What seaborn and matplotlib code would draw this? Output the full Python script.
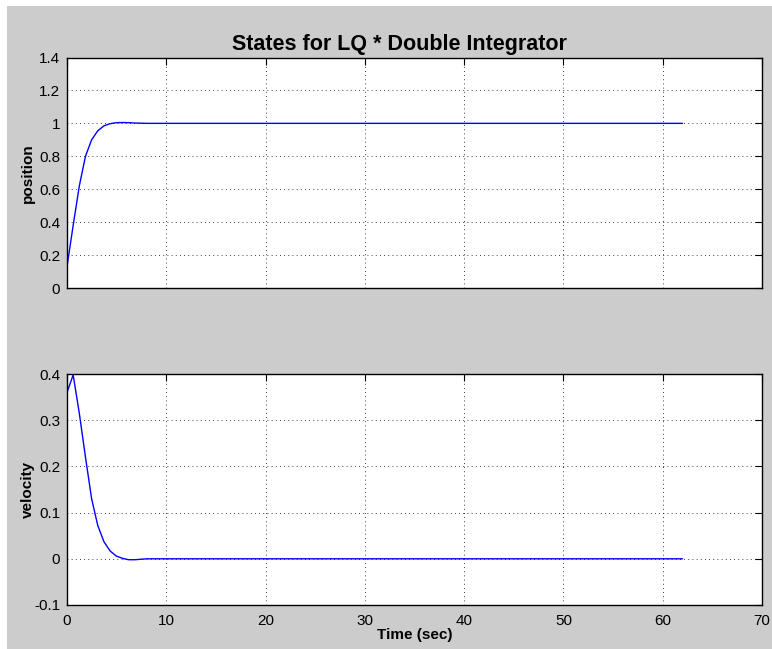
import matplotlib
matplotlib.use("Agg")
import matplotlib.pyplot as plt
from matplotlib.patches import Rectangle
import seaborn as sns
import pandas as pd

# Data
time_s = [0.0, 0.62, 1.24, 1.86, 2.48, 3.10, 3.72, 4.34, 4.96, 5.58, 6.20, 6.82, 7.44, 8.06, 62.0]
position = [0.13, 0.38, 0.62, 0.80, 0.90, 0.955, 0.985, 0.998, 1.004, 1.005, 1.004, 1.002, 1.001, 1.0, 1.0]
velocity = [0.36, 0.398, 0.315, 0.22, 0.13, 0.072, 0.037, 0.017, 0.006, 0.001, -0.002, -0.002, -0.001, 0.0, 0.0]

x_ticks = [0, 10, 20, 30, 40, 50, 60, 70]
pos_ticks = [0, 0.2, 0.4, 0.6, 0.8, 1.0, 1.2, 1.4]
pos_labels = ["0", "0.2", "0.4", "0.6", "0.8", "1", "1.2", "1.4"]
vel_ticks = [-0.1, 0, 0.1, 0.2, 0.3, 0.4]
vel_labels = ["-0.1", "0", "0.1", "0.2", "0.3", "0.4"]

title = "States for LQ * Double Integrator"

df = pd.DataFrame({"t": time_s, "position": position, "velocity": velocity})

sns.set_style("white")
plt.rcParams["font.family"] = ["Liberation Sans", "DejaVu Sans"]
plt.rcParams["text.color"] = "black"
plt.rcParams["axes.labelcolor"] = "black"

W, H = 772, 649
fig = plt.figure(figsize=(W / 100, H / 100), dpi=100, facecolor="white")
fig.patches.append(Rectangle((7 / W, 0), 1, 1 - 6 / H, transform=fig.transFigure,
                             facecolor="#cccccc", edgecolor="none", zorder=-10))

left = 67 / W
width = (762 - 67) / W
ax1 = fig.add_axes([left, 1 - 288 / H, width, (288 - 57.5) / H])
ax2 = fig.add_axes([left, 1 - 605 / H, width, (605 - 374) / H])

grid_kw = dict(color="black", linestyle=(0, (1, 4)), linewidth=0.6)

for ax, col, ticks, labels, lim, ylab in [
    (ax1, "position", pos_ticks, pos_labels, (0, 1.4), "position"),
    (ax2, "velocity", vel_ticks, vel_labels, (-0.1, 0.4), "velocity"),
]:
    sns.lineplot(data=df, x="t", y=col, ax=ax, color="#0000ff", linewidth=1.0)
    ax.set_facecolor("white")
    ax.set_xlim(0, 70)
    ax.set_ylim(*lim)
    ax.set_xticks(x_ticks)
    ax.set_yticks(ticks)
    ax.set_yticklabels(labels)
    ax.grid(True, **grid_kw)
    ax.set_axisbelow(True)
    for s in ax.spines.values():
        s.set_visible(True)
        s.set_color("black")
        s.set_linewidth(1.0)
    ax.tick_params(direction="in", length=5, width=0.8, top=True, right=True,
                   labelsize=11, colors="black")
    ax.tick_params(axis="y", pad=5)
    ax.tick_params(axis="x", pad=6.5)
    ax.set_ylabel(ylab, fontsize=11, fontweight="bold")
    ax.yaxis.set_label_coords(-0.046, 0.5)
    ax.set_xlabel("")

ax1.set_xticklabels([])
ax2.set_xticklabels([str(v) for v in x_ticks])
ax2.set_xlabel("Time (sec)", fontsize=11, fontweight="bold", labelpad=0)
ax1.set_title(title, fontsize=15.5, fontweight="bold", pad=5.5, x=0.479)

fig.savefig("out.png", dpi=100, facecolor=fig.get_facecolor())
